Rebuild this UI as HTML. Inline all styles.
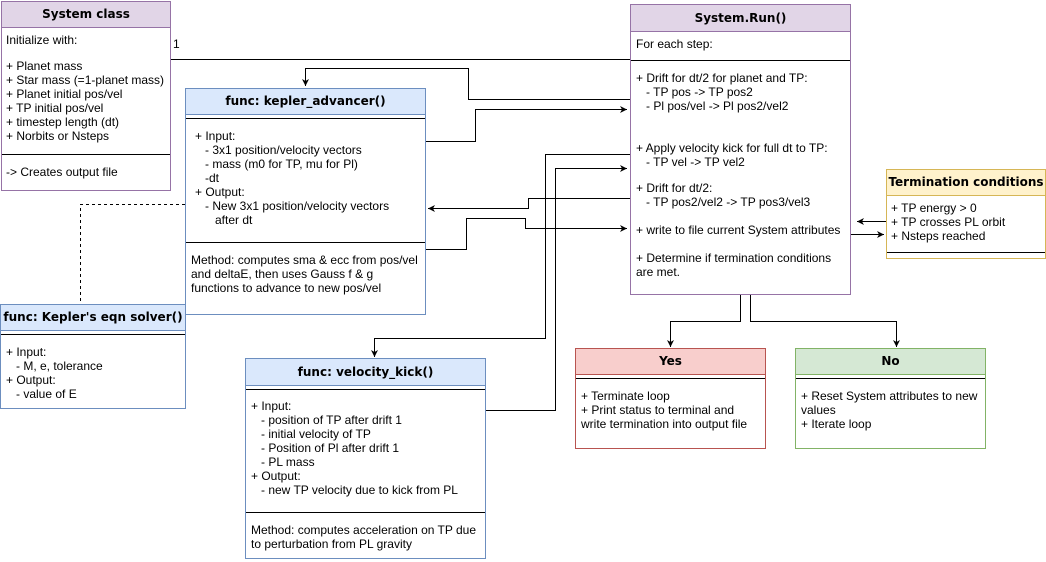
<!DOCTYPE html>
<html><head><meta charset="utf-8"><style>
body{margin:0;width:1046px;height:562px;background:#fff;position:relative;overflow:hidden;font-family:"Liberation Sans",Arial,sans-serif;font-size:12px;color:#000}
.b{position:absolute;box-sizing:border-box;border:1px solid;background:#fff}
.h{position:absolute;left:0;right:0;top:0;box-sizing:border-box;border-bottom:1px solid;font-family:"DejaVu Sans",sans-serif;font-weight:bold;font-size:12px;text-align:center;white-space:nowrap}
.d{position:absolute;left:0;right:0;height:0;border-top:1px solid #000}
.t{position:absolute;white-space:nowrap;line-height:14px}
svg{position:absolute;left:0;top:0}
</style></head><body>

<svg width="1046" height="562" viewBox="0 0 1046 562">
<defs><marker id="a" markerWidth="8" markerHeight="8" refX="7" refY="4" orient="auto" markerUnits="userSpaceOnUse"><path d="M0,0.5 L7,4 L0,7.5 L2,4 z" fill="#000"/></marker></defs>
<g fill="none" stroke="#000" stroke-width="1">
<path d="M170,59.5 H630"/>
<path d="M630,99.5 H468.5 V68.5 H305.5 V86" marker-end="url(#a)"/>
<path d="M426,141.5 H475.5 V109.5 H627" marker-end="url(#a)"/>
<path d="M630,154.5 H545.5 V338.5 H374.5 V357" marker-end="url(#a)"/>
<path d="M486,410.5 H555.5 V168.5 H627" marker-end="url(#a)"/>
<path d="M630,198.5 H528.5 V208.5 H428" marker-end="url(#a)"/>
<path d="M426,249.5 H466.5 V218.5 H525.5 V228.5 H627" marker-end="url(#a)"/>
<path d="M886,221.5 H857" marker-end="url(#a)"/>
<path d="M850,234.5 H884" marker-end="url(#a)"/>
<path d="M740.5,294 V321.5 H670.5 V347" marker-end="url(#a)"/>
<path d="M750.5,294 V321.5 H896.5 V347" marker-end="url(#a)"/>
<path d="M185,204.5 H80.5 V304" stroke-dasharray="3,3"/>
</g>
</svg>

<div class="t" style="left:173px;top:37px">1</div>

<div class="b" style="left:1px;top:1px;width:170px;height:190px;border-color:#9673a6">
<div class="h" style="height:26px;line-height:25px;background:#e1d5e7;border-color:#9673a6">System class</div>
<div class="d" style="top:152px"></div>
</div>
<div class="t" style="left:6px;top:33px">Initialize with:</div>
<div class="t" style="left:6px;top:59px">+ Planet mass<br>+ Star mass (=1-planet mass)<br>+ Planet initial pos/vel<br>+ TP initial pos/vel<br>+ timestep length (dt)<br>+ Norbits or Nsteps</div>
<div class="t" style="left:6px;top:165px">-&gt; Creates output file</div>

<div class="b" style="left:185px;top:88px;width:241px;height:227px;border-color:#6c8ebf">
<div class="h" style="height:26px;line-height:25px;background:#dae8fc;border-color:#6c8ebf">func: kepler_advancer()</div>
<div class="d" style="top:29px"></div>
<div class="d" style="top:153px"></div>
</div>
<div class="t" style="left:195px;top:129px">+ Input:<br>&nbsp;&nbsp;&nbsp;- 3x1 position/velocity vectors<br>&nbsp;&nbsp;&nbsp;- mass (m0 for TP, mu for Pl)<br>&nbsp;&nbsp;&nbsp;-dt<br>+ Output:<br>&nbsp;&nbsp;&nbsp;- New 3x1 position/velocity vectors<br>&nbsp;&nbsp;&nbsp;&nbsp;&nbsp;&nbsp;after dt</div>
<div class="t" style="left:191px;top:253px">Method: computes sma &amp; ecc from pos/vel<br>and deltaE, then uses Gauss f &amp; g<br>functions to advance to new pos/vel</div>

<div class="b" style="left:630px;top:4px;width:221px;height:291px;border-color:#9673a6">
<div class="h" style="height:27px;line-height:26px;background:#e1d5e7;border-color:#9673a6">System.Run()</div>
<div class="d" style="top:55px"></div>
</div>
<div class="t" style="left:636px;top:37px">For each step:</div>
<div class="t" style="left:636px;top:71px">+ Drift for dt/2 for planet and TP:<br>&nbsp;&nbsp;&nbsp;- TP pos -&gt; TP pos2<br>&nbsp;&nbsp;&nbsp;- Pl pos/vel -&gt; Pl pos2/vel2</div>
<div class="t" style="left:636px;top:141px">+ Apply velocity kick for full dt to TP:<br>&nbsp;&nbsp;&nbsp;- TP vel -&gt; TP vel2</div>
<div class="t" style="left:636px;top:181px">+ Drift for dt/2:<br>&nbsp;&nbsp;&nbsp;- TP pos2/vel2 -&gt; TP pos3/vel3</div>
<div class="t" style="left:636px;top:223px">+ write to file current System attributes</div>
<div class="t" style="left:636px;top:251px">+ Determine if termination conditions<br>are met.</div>

<div class="b" style="left:886px;top:169px;width:160px;height:90px;border-color:#d6b656">
<div class="h" style="height:26px;line-height:25px;background:#fff2cc;border-color:#d6b656">Termination conditions</div>
<div class="d" style="top:82px"></div>
</div>
<div class="t" style="left:891px;top:201px">+ TP energy &gt; 0<br>+ TP crosses PL orbit<br>+ Nsteps reached</div>

<div class="b" style="left:0px;top:304px;width:186px;height:105px;border-color:#6c8ebf">
<div class="h" style="height:26px;line-height:25px;background:#dae8fc;border-color:#6c8ebf">func: Kepler's eqn solver()</div>
<div class="d" style="top:29px"></div>
</div>
<div class="t" style="left:6px;top:345px">+ Input:<br>&nbsp;&nbsp;&nbsp;- M, e, tolerance<br>+ Output:<br>&nbsp;&nbsp;&nbsp;- value of E</div>

<div class="b" style="left:245px;top:358px;width:241px;height:201px;border-color:#6c8ebf">
<div class="h" style="height:27px;line-height:26px;background:#dae8fc;border-color:#6c8ebf">func: velocity_kick()</div>
<div class="d" style="top:30px"></div>
<div class="d" style="top:153px"></div>
</div>
<div class="t" style="left:251px;top:399px">+ Input:<br>&nbsp;&nbsp;&nbsp;- position of TP after drift 1<br>&nbsp;&nbsp;&nbsp;- initial velocity of TP<br>&nbsp;&nbsp;&nbsp;- Position of Pl after drift 1<br>&nbsp;&nbsp;&nbsp;- PL mass<br>+ Output:<br>&nbsp;&nbsp;&nbsp;- new TP velocity due to kick from PL</div>
<div class="t" style="left:251px;top:523px">Method: computes acceleration on TP due<br>to perturbation from PL gravity</div>

<div class="b" style="left:575px;top:348px;width:191px;height:101px;border-color:#b85450">
<div class="h" style="height:26px;line-height:25px;background:#f8cecc;border-color:#b85450">Yes</div>
<div class="d" style="top:29px"></div>
</div>
<div class="t" style="left:581px;top:389px">+ Terminate loop<br>+ Print status to terminal and<br>write termination into output file</div>

<div class="b" style="left:795px;top:348px;width:191px;height:101px;border-color:#82b366">
<div class="h" style="height:26px;line-height:25px;background:#d5e8d4;border-color:#82b366">No</div>
<div class="d" style="top:29px"></div>
</div>
<div class="t" style="left:801px;top:389px">+ Reset System attributes to new<br>values<br>+ Iterate loop</div>

</body></html>
